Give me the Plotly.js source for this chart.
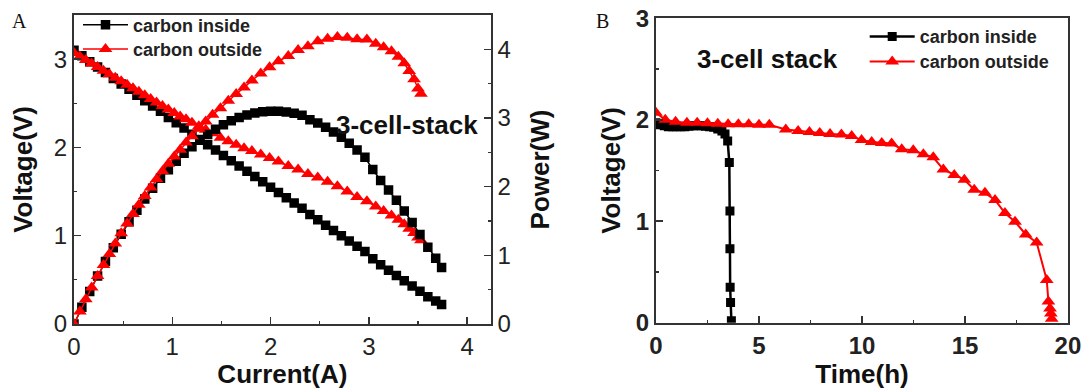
<!DOCTYPE html>
<html>
<head>
<meta charset="utf-8">
<script src="https://cdn.plot.ly/plotly-3.0.1.min.js"></script>
<style>
  html, body { margin: 0; padding: 0; background: #fff; }
  #chart { width: 1085px; height: 389px; }
</style>
</head>
<body>
<div id="chart"></div>
<script>
// Panel A: polarization and power curves of the 3-cell stack
const currentInside = [0, 0.08, 0.16, 0.24, 0.32, 0.40, 0.48, 0.56, 0.64, 0.72, 0.80, 0.88, 0.96, 1.04, 1.12, 1.20,
  1.28, 1.36, 1.44, 1.52, 1.60, 1.68, 1.76, 1.84, 1.92, 2.00, 2.08, 2.16, 2.24, 2.32, 2.40, 2.48, 2.56, 2.64,
  2.72, 2.80, 2.88, 2.96, 3.04, 3.12, 3.20, 3.28, 3.36, 3.44, 3.52, 3.60, 3.68, 3.74];
const voltageInside = [3.10, 3.04, 2.97, 2.91, 2.85, 2.78, 2.72, 2.66, 2.59, 2.53, 2.47, 2.41, 2.34, 2.28, 2.22, 2.15,
  2.09, 2.03, 1.97, 1.91, 1.85, 1.79, 1.73, 1.67, 1.61, 1.55, 1.49, 1.43, 1.37, 1.31, 1.24, 1.18, 1.12, 1.06,
  1.00, 0.94, 0.88, 0.82, 0.74, 0.67, 0.61, 0.55, 0.49, 0.43, 0.37, 0.31, 0.26, 0.22];
const powerInside = [0, 0.243, 0.475, 0.698, 0.912, 1.112, 1.306, 1.490, 1.658, 1.822, 1.976, 2.121, 2.246, 2.371,
  2.486, 2.580, 2.675, 2.761, 2.837, 2.903, 2.960, 3.007, 3.045, 3.073, 3.091, 3.100, 3.099, 3.089, 3.069, 3.039,
  2.976, 2.926, 2.867, 2.798, 2.720, 2.632, 2.534, 2.427, 2.250, 2.090, 1.952, 1.804, 1.646, 1.479, 1.302, 1.116,
  0.957, 0.823];

const currentOutside = [0, 0.06, 0.12, 0.18, 0.24, 0.30, 0.36, 0.42, 0.48, 0.54, 0.60, 0.66, 0.72, 0.78, 0.84, 0.90,
  0.96, 1.02, 1.08, 1.14, 1.20, 1.27, 1.34, 1.41, 1.49, 1.57, 1.65, 1.73, 1.81, 1.90, 1.99, 2.08, 2.18, 2.28,
  2.38, 2.48, 2.58, 2.68, 2.78, 2.88, 2.98, 3.07, 3.15, 3.23, 3.30, 3.36, 3.41, 3.46, 3.50, 3.53];
const voltageOutside = [3.07, 3.03, 2.99, 2.95, 2.91, 2.87, 2.83, 2.79, 2.75, 2.71, 2.67, 2.63, 2.59, 2.55, 2.51, 2.47,
  2.43, 2.39, 2.35, 2.32, 2.28, 2.24, 2.20, 2.16, 2.11, 2.07, 2.03, 1.99, 1.96, 1.92, 1.88, 1.84, 1.79, 1.75,
  1.70, 1.66, 1.61, 1.56, 1.50, 1.44, 1.39, 1.33, 1.28, 1.23, 1.18, 1.13, 1.08, 1.03, 0.98, 0.95];
const powerOutside = [0, 0.182, 0.359, 0.531, 0.698, 0.861, 1.019, 1.172, 1.320, 1.463, 1.602, 1.736, 1.865, 1.989,
  2.108, 2.223, 2.333, 2.438, 2.538, 2.645, 2.736, 2.845, 2.948, 3.046, 3.144, 3.250, 3.350, 3.443, 3.548, 3.648,
  3.741, 3.827, 3.902, 3.990, 4.046, 4.117, 4.154, 4.181, 4.170, 4.147, 4.142, 4.083, 4.032, 3.973, 3.894, 3.797,
  3.683, 3.564, 3.430, 3.354];

// Panel B: discharge of the 3-cell stack over time
const timeInside = [0, 0.2, 0.4, 0.6, 0.8, 1.0, 1.2, 1.4, 1.6, 1.8, 2.0, 2.2, 2.4, 2.6, 2.8, 3.0, 3.2, 3.35,
  3.48, 3.56, 3.59, 3.59, 3.60, 3.62, 3.66];
const dischargeInside = [1.97, 1.95, 1.94, 1.93, 1.93, 1.93, 1.93, 1.93, 1.935, 1.94, 1.94, 1.94, 1.935, 1.93,
  1.925, 1.91, 1.89, 1.86, 1.79, 1.58, 1.10, 0.73, 0.35, 0.20, 0.02];
const timeOutside = [0, 0.45, 0.95, 1.5, 2.0, 2.5, 3.0, 3.5, 4.0, 4.5, 5.0, 5.5, 6.3, 6.9, 7.45, 7.95, 8.45, 9.0,
  9.5, 9.98, 10.47, 10.96, 11.44, 11.93, 12.49, 12.98, 13.46, 13.95, 14.48, 14.97, 15.45, 15.97, 16.46, 16.94,
  17.43, 17.95, 18.48, 18.97, 19.05, 19.13, 19.17, 19.21];
const dischargeOutside = [2.07, 2.00, 1.98, 1.97, 1.97, 1.965, 1.96, 1.955, 1.955, 1.955, 1.95, 1.95, 1.905, 1.89,
  1.88, 1.87, 1.86, 1.855, 1.84, 1.80, 1.78, 1.77, 1.765, 1.71, 1.70, 1.66, 1.63, 1.51, 1.455, 1.41, 1.31, 1.28,
  1.21, 1.08, 0.995, 0.87, 0.79, 0.42, 0.21, 0.14, 0.09, 0.04];

const seriesNames = ['carbon inside', 'carbon outside'];
const BLACK = '#000000';
const RED = '#ff0000';
const SANS = 'Arial, "Liberation Sans", sans-serif';
const AXIS = '#333333';

const traces = [
  { x: currentInside, y: voltageInside, xaxis: 'x', yaxis: 'y', name: seriesNames[0], legend: 'legend',
    mode: 'lines+markers', line: { color: BLACK, width: 1.5 },
    marker: { symbol: 'square', size: 9.5, color: BLACK } },
  { x: currentInside, y: powerInside, xaxis: 'x', yaxis: 'y2', name: seriesNames[0], showlegend: false,
    mode: 'lines+markers', line: { color: BLACK, width: 1.5 },
    marker: { symbol: 'square', size: 9.5, color: BLACK } },
  { x: currentOutside, y: voltageOutside, xaxis: 'x', yaxis: 'y', name: seriesNames[1], legend: 'legend3',
    mode: 'lines+markers', line: { color: RED, width: 1.5 },
    marker: { symbol: 'triangle-up', size: 12, color: RED } },
  { x: currentOutside, y: powerOutside, xaxis: 'x', yaxis: 'y2', name: seriesNames[1], showlegend: false,
    mode: 'lines+markers', line: { color: RED, width: 1.5 },
    marker: { symbol: 'triangle-up', size: 12, color: RED } },
  { x: timeInside, y: dischargeInside, xaxis: 'x3', yaxis: 'y3', name: seriesNames[0], legend: 'legend2',
    mode: 'lines+markers', line: { color: BLACK, width: 2.5 },
    marker: { symbol: 'square', size: 9, color: BLACK } },
  { x: timeOutside, y: dischargeOutside, xaxis: 'x3', yaxis: 'y3', name: seriesNames[1], legend: 'legend4',
    mode: 'lines+markers', line: { color: RED, width: 2 },
    marker: { symbol: 'triangle-up', size: 12, color: RED } }
];

function axis(extra, bold) {
  const base = {
    showgrid: false, zeroline: false, showline: true, linecolor: AXIS, linewidth: 2,
    ticks: 'inside', ticklen: 7, tickwidth: 1.5, tickcolor: AXIS,
    tickfont: { family: SANS, size: 24, color: '#222', weight: bold ? 'bold' : 'normal' },
    fixedrange: true
  };
  return Object.assign(base, extra);
}
function minor(step) {
  return { dtick: step, ticks: 'inside', ticklen: 3, tickwidth: 1.2, tickcolor: AXIS };
}
const titleFont = { family: SANS, size: 26, color: '#111', weight: 'bold' };
const legendFont = { family: SANS, size: 18, color: '#222', weight: 'bold' };

// one single-entry legend per series so each row sits at its own height
function legendAt(xPx, yPx) {
  return { x: xPx / 1085, y: 1 - yPx / 389, xanchor: 'left', yanchor: 'middle', bgcolor: 'rgba(0,0,0,0)',
    borderwidth: 0, itemwidth: 45, tracegroupgap: 0, font: legendFont };
}

const layout = {
  width: 1085, height: 389,
  margin: { l: 0, r: 0, t: 0, b: 0 },
  paper_bgcolor: '#fff', plot_bgcolor: '#fff',
  showlegend: true,
  xaxis: axis({ domain: [0.0682, 0.4523], range: [0, 4.24], tick0: 0, dtick: 1, minor: minor(0.5),
    anchor: 'y', mirror: true, title: { text: 'Current(A)', font: titleFont, standoff: 6 } }, false),
  yaxis: axis({ domain: [0.1671, 0.9614], range: [0, 3.5], tick0: 0, dtick: 1, minor: minor(0.5),
    anchor: 'x', title: { text: 'Voltage(V)', font: titleFont, standoff: 14 } }, false),
  yaxis2: axis({ domain: [0.1671, 0.9614], range: [0, 4.5], tick0: 0, dtick: 1, minor: minor(0.5),
    anchor: 'x', overlaying: 'y', side: 'right', title: { text: 'Power(W)', font: titleFont, standoff: 21 } }, false),
  xaxis3: axis({ domain: [0.6046, 0.9843], range: [0, 20], tick0: 0, dtick: 5, minor: minor(2.5),
    anchor: 'y3', mirror: true, title: { text: 'Time(h)', font: titleFont, standoff: 6 } }, true),
  yaxis3: axis({ domain: [0.1704, 0.9530], range: [0, 3], tick0: 0, dtick: 1, minor: minor(0.5),
    anchor: 'x3', mirror: true, title: { text: 'Voltage(V)', font: titleFont, standoff: 8 } }, true),
  legend: legendAt(78, 25),
  legend3: legendAt(78, 49.3),
  legend2: legendAt(864.7, 36.7),
  legend4: legendAt(864.7, 61.7),
  annotations: [
    { text: 'A', xref: 'paper', yref: 'paper', x: 10 / 1085, y: 1 - 8 / 389, xanchor: 'left', yanchor: 'top',
      showarrow: false, font: { family: '"Liberation Serif", "Times New Roman", serif', size: 20, color: '#111' } },
    { text: 'B', xref: 'paper', yref: 'paper', x: 594 / 1085, y: 1 - 8 / 389, xanchor: 'left', yanchor: 'top',
      showarrow: false, font: { family: '"Liberation Serif", "Times New Roman", serif', size: 20, color: '#111' } },
    { text: '3-cell-stack', xref: 'paper', yref: 'paper', x: 407 / 1085, y: 1 - 125 / 389, xanchor: 'center', yanchor: 'middle',
      showarrow: false, font: { family: SANS, size: 26, color: '#111', weight: 'bold' } },
    { text: '3-cell stack', xref: 'paper', yref: 'paper', x: 767 / 1085, y: 1 - 59 / 389, xanchor: 'center', yanchor: 'middle',
      showarrow: false, font: { family: SANS, size: 26, color: '#111', weight: 'bold' } }
  ]
};

Plotly.newPlot('chart', traces, layout, { displayModeBar: false, staticPlot: true });
</script>
</body>
</html>
